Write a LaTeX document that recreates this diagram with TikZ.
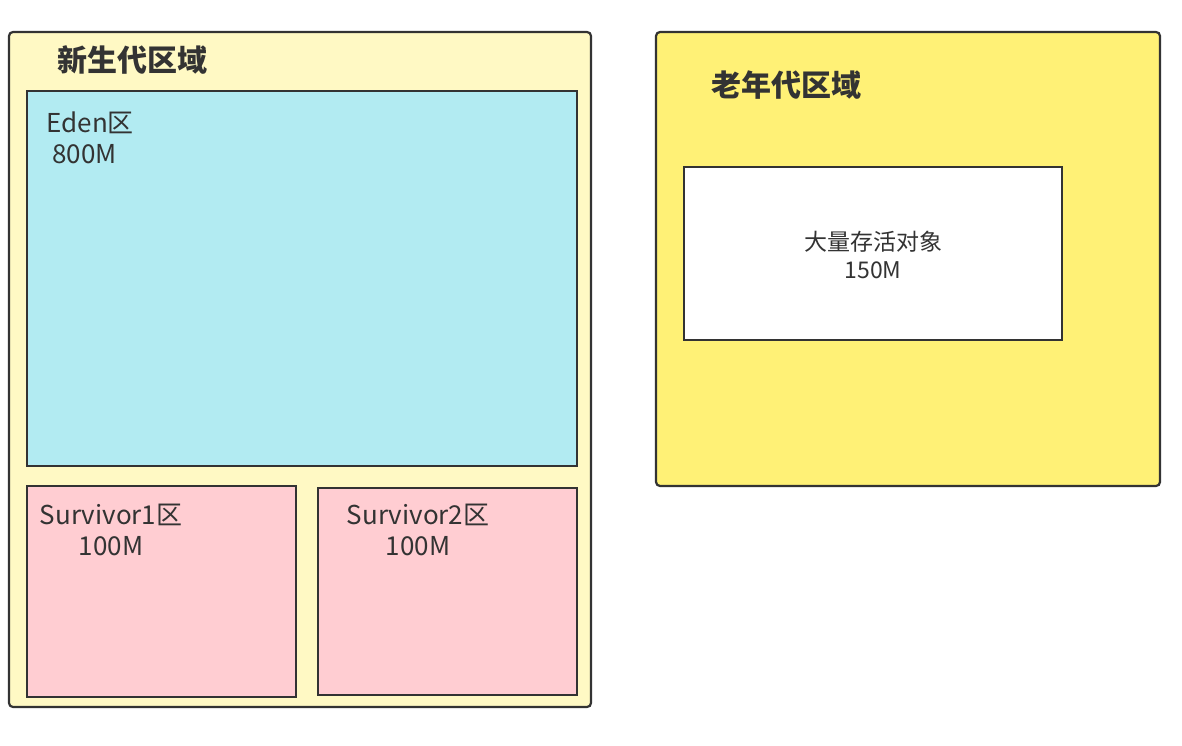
\documentclass[tikz,border=0pt]{standalone}
\usepackage{fontspec}
\setmainfont{Noto Sans CJK SC}
\usetikzlibrary{positioning}
\definecolor{edge}{HTML}{333333}
\definecolor{youngfill}{HTML}{FFF9C4}
\definecolor{oldfill}{HTML}{FFF176}
\definecolor{edenfill}{HTML}{B2EBF2}
\definecolor{survfill}{HTML}{FFCDD2}
\tikzset{
  area/.style={draw=edge, line width=2.2pt, rounded corners=4pt},
  part/.style={draw=edge, line width=2.2pt},
  title/.style={font=\fontsize{30}{34}\selectfont\bfseries, text=edge},
  label/.style={font=\fontsize{26}{31}\selectfont, text=edge, align=center},
  small/.style={font=\fontsize{23}{28}\selectfont, text=edge, align=center},
}
\begin{document}
\begin{tikzpicture}[x=1pt,y=-1pt]
  \useasboundingbox (0,0) rectangle (1182,746);
  % young generation
  \draw[area, fill=youngfill] (9,32) rectangle (591,707);
  \node[title] (youngtitle) at (132,60) {新生代区域};
  \draw[part, fill=edenfill] (27,91) rectangle (577,466);
  \node[label, align=left, anchor=north west] (eden) at (43,108) {Eden区\\ \ 800M};
  \draw[part, fill=survfill] (27,486) rectangle (296,697);
  \node[label] (surv1) at (111,530) {Survivor1区\\100M};
  \draw[part, fill=survfill] (318,488) rectangle (577,695);
  \node[label] (surv2) at (418,530) {Survivor2区\\100M};
  % old generation
  \draw[area, fill=oldfill] (656,32) rectangle (1160,486);
  \node[title] (oldtitle) at (786,85) {老年代区域};
  \draw[part, fill=white] (684,167) rectangle (1062,340);
  \node[small] (objects) at (873,255) {大量存活对象\\150M};
\end{tikzpicture}
\end{document}
